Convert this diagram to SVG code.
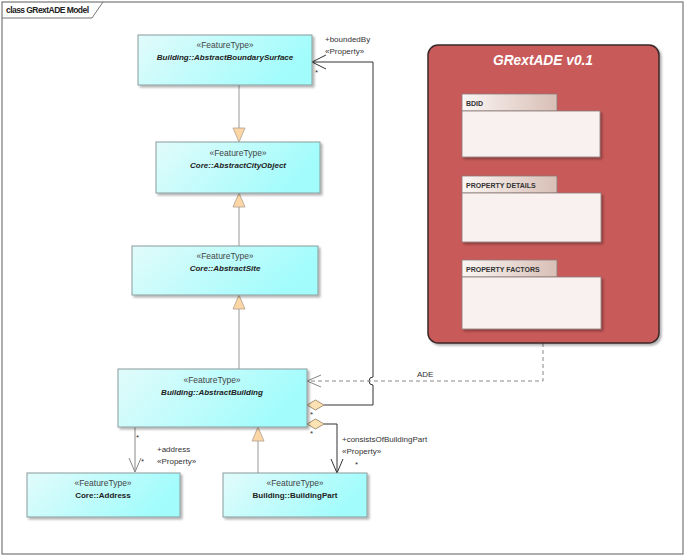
<svg xmlns="http://www.w3.org/2000/svg" width="685" height="557" viewBox="0 0 685 557">
<defs>
<linearGradient id="cyan" x1="0" y1="0" x2="1" y2="0.3">
<stop offset="0" stop-color="#e2fbfb"/>
<stop offset="1" stop-color="#a2fcfc"/>
</linearGradient>
<linearGradient id="tab" x1="0" y1="0" x2="1" y2="0">
<stop offset="0" stop-color="#fbf6f4"/>
<stop offset="1" stop-color="#d8bfb6"/>
</linearGradient>
<filter id="sh" x="-10%" y="-10%" width="130%" height="130%">
<feDropShadow dx="2" dy="2" stdDeviation="1.2" flood-color="#000" flood-opacity="0.3"/>
</filter>
</defs>
<style>
.node{fill:url(#cyan);stroke:#8a9c9c;stroke-width:1;filter:url(#sh)}
.st{font-family:"Liberation Sans",Arial,sans-serif;font-size:8.5px;fill:#444;text-anchor:middle}
.nm{font-family:"Liberation Sans",Arial,sans-serif;font-size:8px;font-weight:bold;font-style:italic;fill:#222;text-anchor:middle}
.nm2{font-family:"Liberation Sans",Arial,sans-serif;font-size:8px;font-weight:bold;fill:#222;text-anchor:middle}
.lbl{font-family:"Liberation Sans",Arial,sans-serif;font-size:8px;fill:#333}
.gen{stroke:#999;stroke-width:1;fill:none}
.tri{fill:#fcd6a4;stroke:#b0a090;stroke-width:0.8}
.dia{fill:#fde2b4;stroke:#8c7c60;stroke-width:0.8}
.as{stroke:#333;stroke-width:1;fill:none}
.asg{stroke:#888;stroke-width:1;fill:none}
.pk{font-family:"Liberation Sans",Arial,sans-serif;font-size:7px;font-weight:bold;fill:#333}
.ptab{fill:url(#tab);stroke:#8a7a78;stroke-width:0.8}
.pbody{fill:#f8f1ef;stroke:#8a7a78;stroke-width:0.8;filter:url(#sh)}
</style>
<rect x="0" y="0" width="685" height="557" fill="#fff"/>
<g id="frame">
<rect x="2" y="2" width="681" height="552" fill="none" stroke="#777" stroke-width="1.2"/>
<path d="M2,18 L92,18 L103,2" fill="none" stroke="#777" stroke-width="1"/>
<text x="6" y="13" font-family="Liberation Sans,Arial,sans-serif" font-size="8.5" font-weight="bold" fill="#222" textLength="83">class GRextADE Model</text>
</g>
<g id="connectors">
<line class="gen" x1="239" y1="85" x2="239" y2="128"/>
<polygon class="tri" points="233,128 245,128 239,142"/>
<line class="gen" x1="239" y1="207" x2="239" y2="246"/>
<polygon class="tri" points="233,207 245,207 239,193"/>
<line class="gen" x1="239" y1="309" x2="239" y2="369"/>
<polygon class="tri" points="233,309 245,309 239,295"/>
<line class="gen" x1="258" y1="441" x2="258" y2="473"/>
<polygon class="tri" points="252,441 264,441 258,427"/>
<line class="asg" x1="135" y1="427" x2="135" y2="472"/>
<polyline class="asg" points="129,458 135,472 141,458"/>
<text class="lbl" x="136" y="440">*</text>
<text class="lbl" x="141" y="464">*</text>
<text class="lbl" x="157" y="452">+address</text>
<text class="lbl" x="157" y="464">«Property»</text>
<polyline class="as" points="324,424 337,424 337,473"/>
<polyline class="as" points="331,459 337,473 343,459"/>
<polygon class="dia" points="307,424 315.5,419 324,424 315.5,429"/>
<text class="lbl" x="310" y="436">*</text>
<text class="lbl" x="342" y="442">+consistsOfBuildingPart</text>
<text class="lbl" x="342" y="454">«Property»</text>
<text class="lbl" x="355" y="467">*</text>
<path class="as" d="M324,405 L373,405 L373,385 A4,4 0 0 1 373,377 L373,62 L312,62"/>
<polyline class="as" points="326,55 312,62 326,69"/>
<polygon class="dia" points="307,405 315.5,400 324,405 315.5,410"/>
<text class="lbl" x="310" y="417">*</text>
<text class="lbl" x="325" y="42">+boundedBy</text>
<text class="lbl" x="325" y="54">«Property»</text>
<text class="lbl" x="315" y="75">*</text>
<path d="M543,343 L543,381 L307,381" fill="none" stroke="#888" stroke-width="1" stroke-dasharray="4,3"/>
<polyline points="321,375 307,381 321,387" fill="none" stroke="#888" stroke-width="1"/>
<text class="lbl" x="417" y="377">ADE</text>
</g>
<g id="AbstractBoundarySurface">
<rect class="node" x="138" y="35" width="174" height="50"/>
<text class="st" x="225" y="48">«FeatureType»</text>
<text class="nm" x="225" y="60">Building::AbstractBoundarySurface</text>
</g>
<g id="AbstractCityObject">
<rect class="node" x="156" y="142" width="164" height="51"/>
<text class="st" x="238" y="156">«FeatureType»</text>
<text class="nm" x="238" y="168">Core::AbstractCityObject</text>
</g>
<g id="AbstractSite">
<rect class="node" x="132" y="246" width="186" height="49"/>
<text class="st" x="225" y="259">«FeatureType»</text>
<text class="nm" x="225" y="271">Core::AbstractSite</text>
</g>
<g id="AbstractBuilding">
<rect class="node" x="118" y="369" width="189" height="58"/>
<text class="st" x="212" y="383">«FeatureType»</text>
<text class="nm" x="212" y="395">Building::AbstractBuilding</text>
</g>
<g id="Address">
<rect class="node" x="27" y="473" width="153" height="44"/>
<text class="st" x="103" y="486">«FeatureType»</text>
<text class="nm2" x="103" y="498">Core::Address</text>
</g>
<g id="BuildingPart">
<rect class="node" x="223" y="473" width="144" height="44"/>
<text class="st" x="295" y="486">«FeatureType»</text>
<text class="nm2" x="295" y="498">Building::BuildingPart</text>
</g>
<g id="GRextADE">
<rect x="428" y="45" width="231" height="298" rx="10" ry="10" fill="#c95a5a" stroke="#3a2828" stroke-width="1.5" filter="url(#sh)"/>
<text x="543" y="65" text-anchor="middle" font-family="Liberation Sans,Arial,sans-serif" font-size="15.5" font-weight="bold" font-style="italic" fill="#fff" textLength="100" lengthAdjust="spacingAndGlyphs">GRextADE v0.1</text>
<g id="BDID">
<rect class="ptab" x="462" y="94" width="95" height="17"/>
<rect class="pbody" x="462" y="111" width="138" height="46"/>
<text class="pk" x="466" y="106">BDID</text>
</g>
<g id="PropertyDetails">
<rect class="ptab" x="462" y="176" width="95" height="17"/>
<rect class="pbody" x="462" y="193" width="139" height="49"/>
<text class="pk" x="466" y="188">PROPERTY DETAILS</text>
</g>
<g id="PropertyFactors">
<rect class="ptab" x="462" y="260" width="95" height="17"/>
<rect class="pbody" x="462" y="277" width="139" height="52"/>
<text class="pk" x="466" y="272">PROPERTY FACTORS</text>
</g>
</g>
</svg>
